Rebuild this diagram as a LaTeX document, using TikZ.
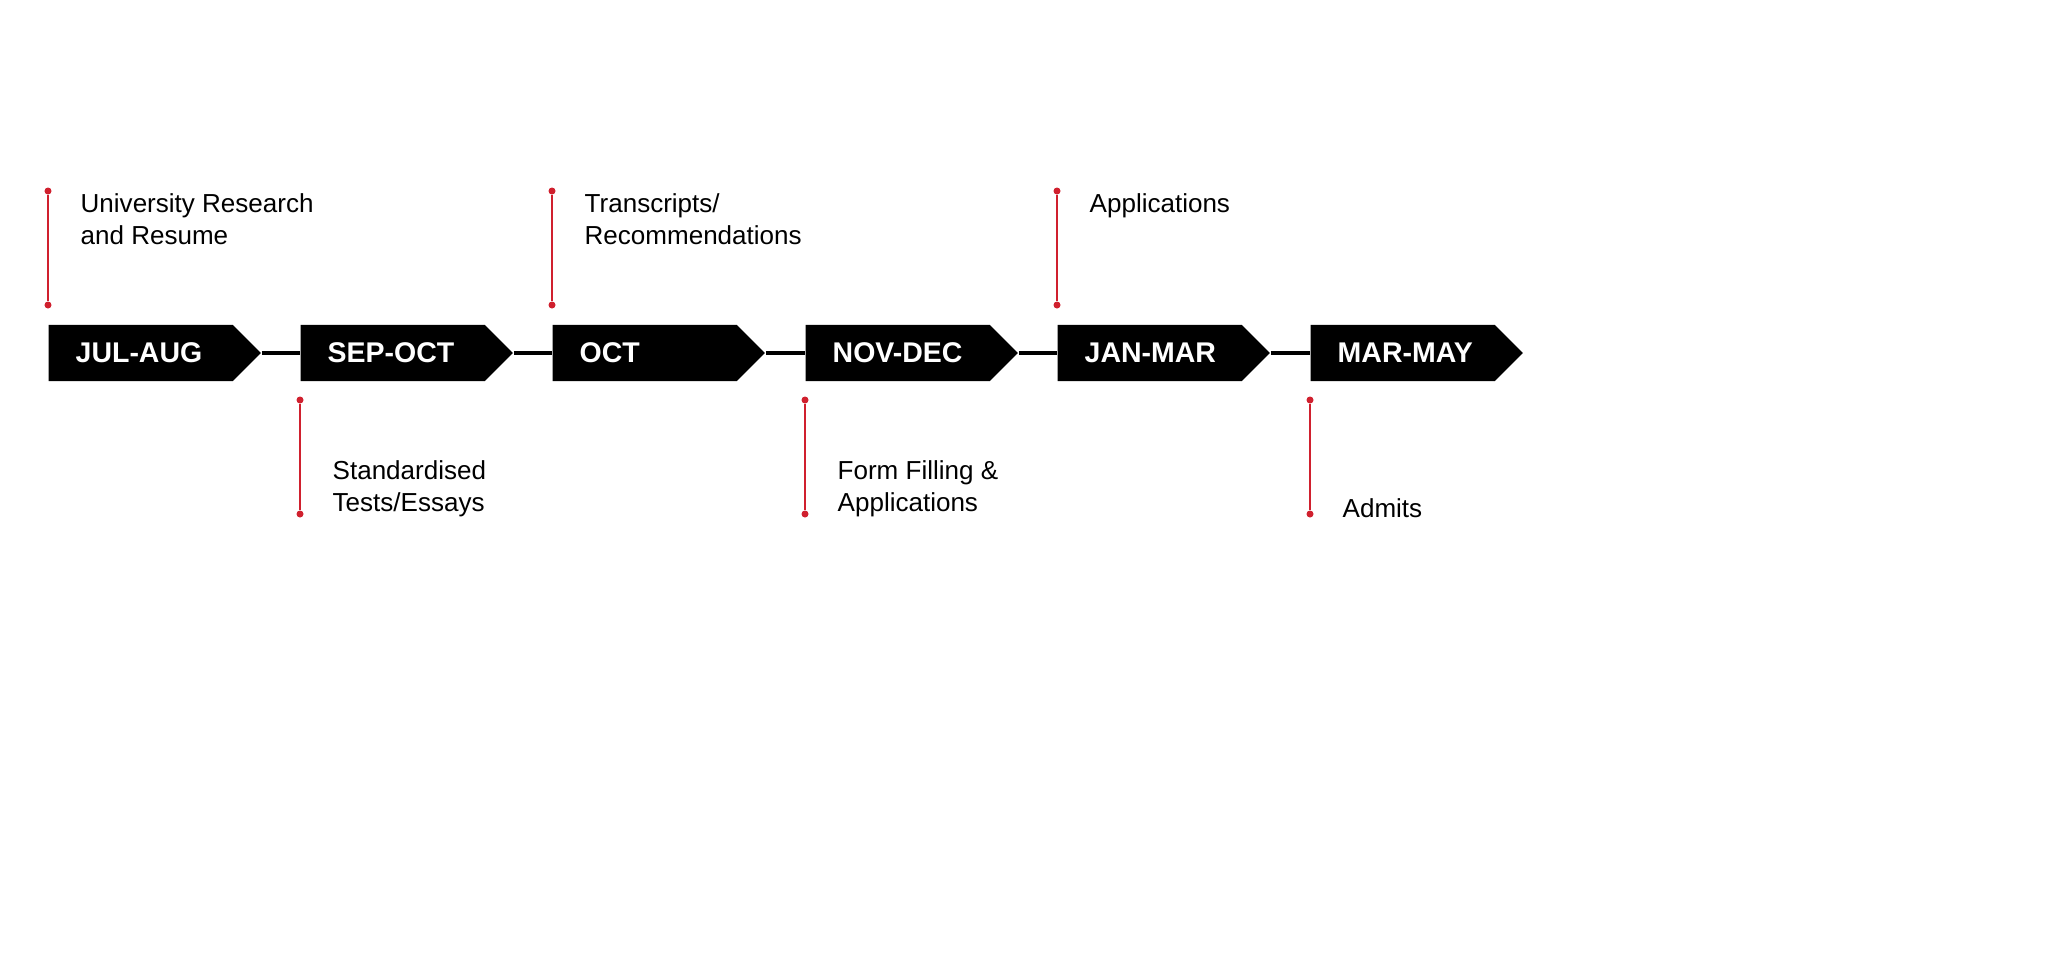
\documentclass[tikz,border=0pt]{standalone}
\usepackage{fontspec}
\setmainfont{Liberation Sans}
\usetikzlibrary{shapes.symbols}
\definecolor{markred}{HTML}{D0202E}
\tikzset{
  period/.style={signal, signal to=east, signal from=nowhere, fill=black, draw=none,
    minimum width=2.12cm, minimum height=0.56cm, inner sep=0pt, anchor=west},
  periodtext/.style={text=white, font=\fontsize{8.1}{10}\selectfont\bfseries, inner sep=0pt, anchor=west},
  stepnote/.style={font=\fontsize{7.4}{9.2}\selectfont, align=left, inner sep=0pt},
  redline/.style={draw=markred, line width=0.7pt},
  reddot/.style={circle, fill=markred, inner sep=0pt, minimum size=0.07cm},
}
\begin{document}
\begin{tikzpicture}[x=0.01cm, y=-0.01cm]
  \useasboundingbox (0,0) rectangle (2048,978);
  % Periods
  \foreach \i/\x/\m in {1/48/JUL-AUG, 2/300/SEP-OCT, 3/552/OCT, 4/805/NOV-DEC, 5/1057/JAN-MAR, 6/1310/MAR-MAY} {
    \node (b\i) [period] at (\x,353) {};
    \node (t\i) [periodtext] at (\x+27,353) {\m};
  }
  % Connectors
  \foreach \i/\j in {1/2, 2/3, 3/4, 4/5, 5/6}
    \draw[line width=1.2pt] (b\i.east) -- (b\j.west);
  % Notes above
  \foreach \i/\x/\txt in {1/48/{University Research\\and Resume}, 3/552/{Transcripts/\\Recommendations}, 5/1057/{Applications}} {
    \node (u\i) [reddot] at (\x,191) {};
    \node (v\i) [reddot] at (\x,305) {};
    \draw[redline] (u\i) -- (v\i);
    \node (n\i) [stepnote, anchor=north west] at (\x+32,193) {\txt};
  }
  % Notes below
  \foreach \i/\x/\txt in {2/300/{Standardised\\Tests/Essays}, 4/805/{Form Filling \&\\Applications}, 6/1310/{Admits}} {
    \node (u\i) [reddot] at (\x,400) {};
    \node (v\i) [reddot] at (\x,514) {};
    \draw[redline] (u\i) -- (v\i);
    \node (n\i) [stepnote, anchor=south west] at (\x+32,518) {\txt};
  }
\end{tikzpicture}
\end{document}
